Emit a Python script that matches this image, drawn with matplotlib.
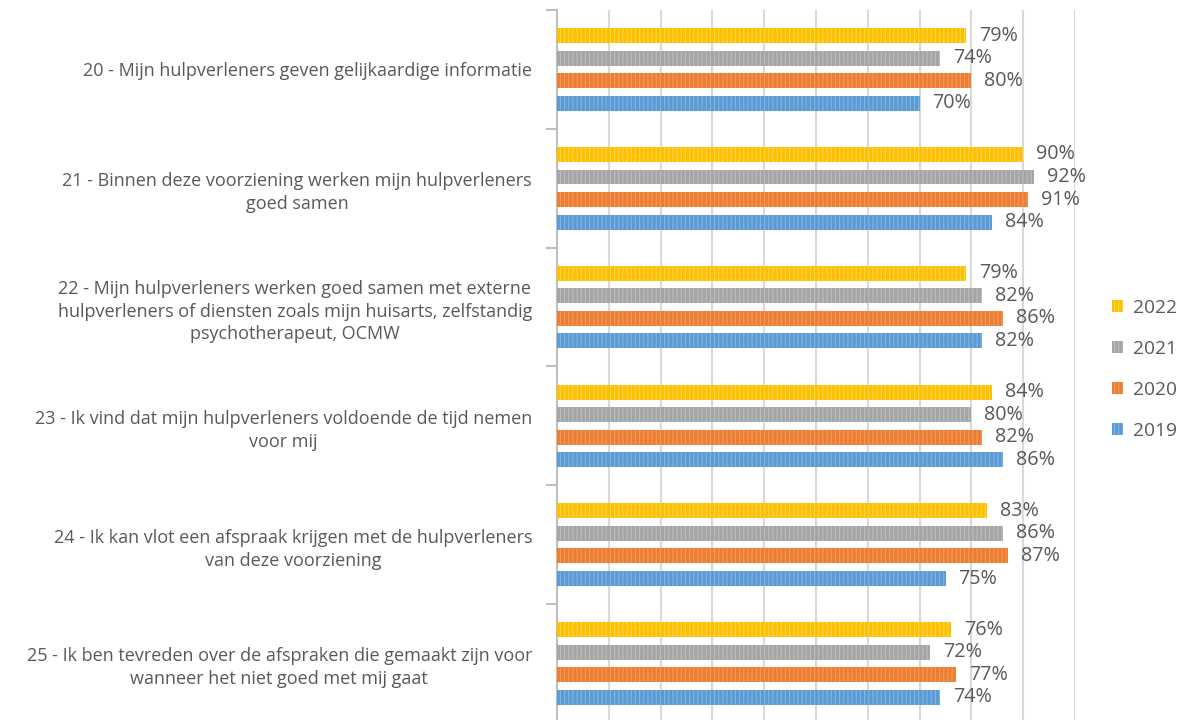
import matplotlib

matplotlib.use("Agg")

import matplotlib.pyplot as plt
import numpy as np

categories = [
    "20 - Mijn hulpverleners geven gelijkaardige informatie",
    "21 - Binnen deze voorziening werken mijn hulpverleners\ngoed samen",
    "22 - Mijn hulpverleners werken goed samen met externe\nhulpverleners of diensten zoals mijn huisarts, zelfstandig\npsychotherapeut, OCMW",
    "23 - Ik vind dat mijn hulpverleners voldoende de tijd nemen\nvoor mij",
    "24 - Ik kan vlot een afspraak krijgen met de hulpverleners\nvan deze voorziening",
    "25 - Ik ben tevreden over de afspraken die gemaakt zijn voor\nwanneer het niet goed met mij gaat",
]
years = ["2022", "2021", "2020", "2019"]
values_2022 = [79, 90, 79, 84, 83, 76]
values_2021 = [74, 92, 82, 80, 86, 72]
values_2020 = [80, 91, 86, 82, 87, 77]
values_2019 = [70, 84, 82, 86, 75, 74]

series = [values_2022, values_2021, values_2020, values_2019]
colors = ["#FFC000", "#A5A5A5", "#ED7D31", "#5B9BD5"]
stripe_colors = ["#FFD34D", "#BDBDBD", "#F29A60", "#82B3E0"]

plt.rcParams["font.family"] = ["Open Sans", "DejaVu Sans"]
plt.rcParams["hatch.linewidth"] = 0.8

fig = plt.figure(figsize=(11.84, 7.2), dpi=100)
ax = fig.add_axes([0.4705, -0.004, 0.4375, 0.99])

y = np.arange(len(categories))
step = 0.19
bar_h = 0.126
text_color = "#595959"

handles = []
for i, (vals, col, sc, yr) in enumerate(zip(series, colors, stripe_colors, years)):
    pos = y + (i - 1.5) * step
    bars = ax.barh(pos, np.array(vals) / 100, height=bar_h, color=col,
                   edgecolor=sc, linewidth=0, hatch="||||", label=yr, zorder=3)
    handles.append(bars)
    for p, v in zip(pos, vals):
        ax.text(v / 100 + 0.025, p, f"{v}%", va="center", ha="left",
                fontsize=14.2, color=text_color)

ax.set_xlim(0, 1.0)
ax.set_ylim(len(categories) - 0.5, -0.5)
ax.set_xticks(np.arange(0.1, 1.01, 0.1))
ax.tick_params(axis="x", length=0, labelbottom=False)
ax.grid(axis="x", color="#D9D9D9", linewidth=1.5, zorder=0)

ax.set_yticks(y)
ax.set_yticklabels(categories, fontsize=13, color=text_color)
for lbl in ax.get_yticklabels():
    lbl.set_multialignment("center")
    lbl.set_linespacing(1.35)
ax.tick_params(axis="y", which="major", length=0, pad=18)
ax.set_yticks(np.arange(-0.5, len(categories) + 0.5, 1), minor=True)
ax.tick_params(axis="y", which="minor", length=8, width=1.5, color="#BFBFBF")

for side in ["top", "right", "bottom"]:
    ax.spines[side].set_visible(False)
ax.spines["left"].set_color("#BFBFBF")
ax.spines["left"].set_linewidth(1.5)

fig.legend(handles=handles, labels=years, loc="center left",
           bbox_to_anchor=(0.931, 0.487), frameon=False, fontsize=13.8,
           labelcolor=text_color, handlelength=0.6, handleheight=0.6,
           handletextpad=0.5, labelspacing=1.2, borderpad=0)

fig.savefig("out.png", dpi=100)
